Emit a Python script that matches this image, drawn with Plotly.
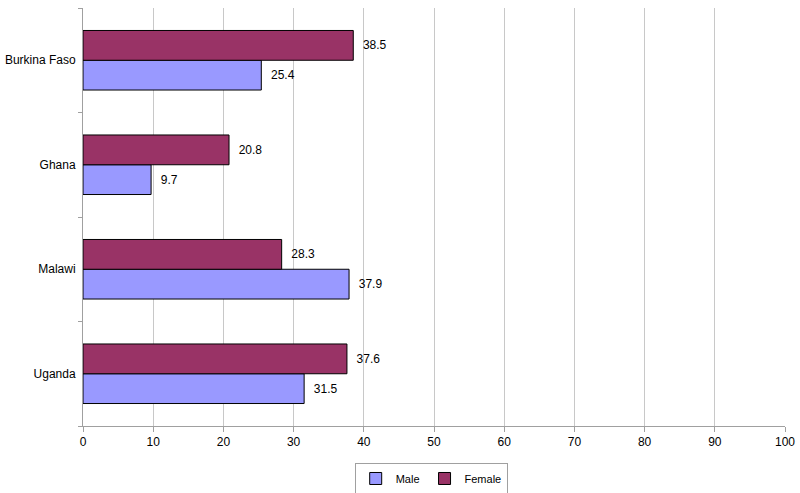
import plotly.graph_objects as go

countries = ["Burkina Faso", "Ghana", "Malawi", "Uganda"]
male = [25.4, 9.7, 37.9, 31.5]
female = [38.5, 20.8, 28.3, 37.6]
x_ticks = [0, 10, 20, 30, 40, 50, 60, 70, 80, 90, 100]

FONT = "Liberation Sans, Arial"

fig = go.Figure()
fig.add_trace(go.Bar(
    y=countries, x=male, name="Male", orientation="h",
    marker=dict(color="#9999FF", line=dict(color="#000000", width=1)),
    text=["  " + f"{v:.1f}" for v in male], textposition="outside",
    textfont=dict(family=FONT, size=12, color="#000000"),
    cliponaxis=False,
))
fig.add_trace(go.Bar(
    y=countries, x=female, name="Female", orientation="h",
    marker=dict(color="#993366", line=dict(color="#000000", width=1)),
    text=["  " + f"{v:.1f}" for v in female], textposition="outside",
    textfont=dict(family=FONT, size=12, color="#000000"),
    cliponaxis=False,
))

fig.update_layout(
    width=800, height=493,
    barmode="group", bargap=0.43, bargroupgap=0,
    plot_bgcolor="white", paper_bgcolor="white",
    margin=dict(l=83, r=15, t=8, b=67, autoexpand=False),
    font=dict(family=FONT, size=12, color="#000000"),
    uniformtext=dict(minsize=12, mode="show"),
    xaxis=dict(
        range=[0, 100], tickvals=x_ticks, showgrid=True, gridcolor="#C8C8C8",
        gridwidth=1, showline=True, linecolor="#A0A0A0", linewidth=1,
        ticks="outside", ticklen=5, tickcolor="#A0A0A0", zeroline=False,
        tickfont=dict(size=12), automargin=False,
    ),
    yaxis=dict(
        type="category", categoryorder="array",
        categoryarray=list(reversed(countries)),
        showline=True, linecolor="#A0A0A0", linewidth=1,
        ticks="outside", ticklen=4, tickcolor="#A0A0A0", tickson="boundaries",
        showgrid=False, tickfont=dict(size=12), automargin=False,
        ticklabelstandoff=4,
    ),
    legend=dict(
        orientation="h", x=0.496, xanchor="center", y=-0.0885, yanchor="top",
        bordercolor="#A0A0A0", borderwidth=1, font=dict(size=11),
        traceorder="normal", itemwidth=30, tracegroupgap=0,
    ),
    showlegend=True,
)

fig.write_html(
    "out.html",
    config={"displayModeBar": False},
    post_script="document.body.style.margin='0';document.body.style.overflow='hidden';",
)
